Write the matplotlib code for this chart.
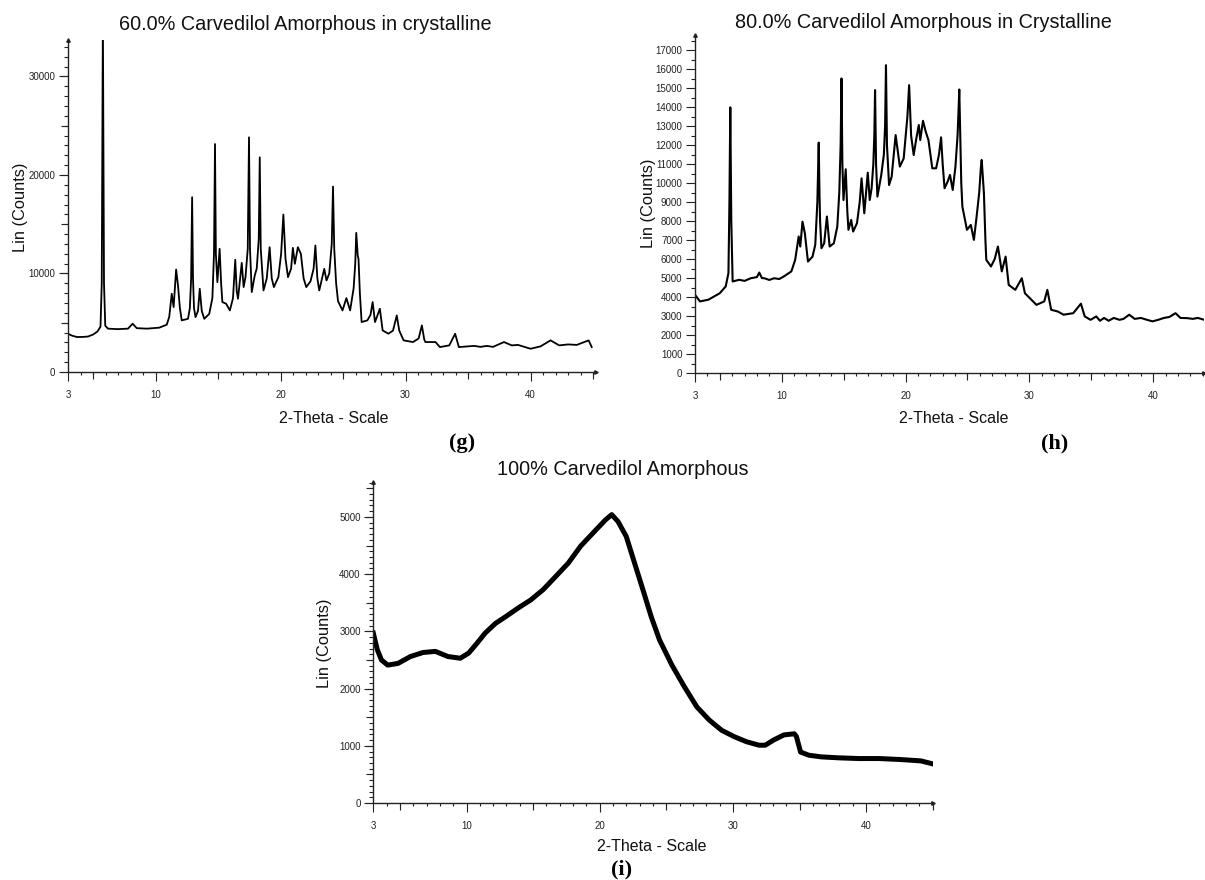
import matplotlib
matplotlib.use("Agg")
import matplotlib.pyplot as plt
from matplotlib.ticker import MultipleLocator, FixedLocator

plt.rcParams['font.family'] = ['Liberation Sans', 'DejaVu Sans']

# ---------------- data ----------------
titles = ["60.0% Carvedilol Amorphous in crystalline",
          "80.0% Carvedilol Amorphous in Crystalline",
          "100% Carvedilol Amorphous"]
panel_tags = ["(g)", "(h)", "(i)"]
x_label = "2-Theta - Scale"
y_label = "Lin (Counts)"
x_tick_values = [3, 10, 20, 30, 40]

two_theta_g = [3.0, 3.3, 3.7, 4.2, 4.6, 5.0, 5.35, 5.6, 5.70, 5.79, 5.88, 5.98, 6.2, 7.0, 7.8,
               8.17, 8.5, 9.3, 10.3, 10.9, 11.1, 11.3, 11.45, 11.65, 11.8, 11.95, 12.1, 12.6,
               12.75, 12.85, 12.93, 13.0, 13.08, 13.2, 13.4, 13.54, 13.7, 13.9, 14.3, 14.55,
               14.68, 14.76, 14.83, 14.95, 15.13, 15.25, 15.35, 15.65, 15.95, 16.2, 16.38, 16.5,
               16.6, 16.9, 17.05, 17.2, 17.38, 17.48, 17.56, 17.7, 17.94, 18.1, 18.26, 18.34,
               18.42, 18.64, 18.9, 19.13, 19.3, 19.47, 19.83, 20.05, 20.23, 20.4, 20.6, 20.85,
               20.99, 21.15, 21.39, 21.63, 21.85, 22.06, 22.4, 22.65, 22.79, 22.95, 23.1, 23.5,
               23.68, 23.9, 24.1, 24.2, 24.3, 24.45, 24.6, 24.96, 25.27, 25.57, 25.85, 25.98,
               26.06, 26.18, 26.24, 26.35, 26.49, 26.95, 27.2, 27.37, 27.56, 27.95, 28.17, 28.63,
               29.0, 29.3, 29.5, 29.85, 30.6, 31.05, 31.31, 31.5, 31.59, 32.4, 32.75, 33.5,
               33.97, 34.27, 35.0, 35.5, 36.0, 36.5, 37.0, 37.88, 38.5, 39.0, 40.0, 40.8, 41.6,
               42.3, 43.0, 43.7, 44.65, 44.9]
counts_g = [3885, 3700, 3550, 3560, 3600, 3800, 4100, 4600, 9000, 36000, 9000, 4700, 4400, 4350, 4400,
            4900, 4450, 4400, 4500, 4800, 5600, 7940, 6590, 10400, 8780, 6500, 5240, 5400,
            6500, 9500, 17740, 9500, 6500, 5570, 6200, 8450, 6200, 5400, 5900, 7500,
            12000, 23140, 12000, 9120, 12500, 9000, 7100, 6930, 6250, 7500, 11390, 8200,
            7430, 11080, 8620, 9630, 12500, 23820, 12500, 8110, 9800, 10500, 13500, 21790,
            12500, 8280, 9500, 12670, 9500, 8620, 9630, 12000, 15980, 11500, 9630, 10500,
            12600, 10980, 12670, 11990, 9500, 8620, 9200, 10500, 12840, 9500, 8280, 10470,
            9290, 10000, 13000, 18820, 12500, 9000, 7200, 6250, 7500, 6250, 8500, 11000,
            14120, 11800, 11490, 8000, 5070, 5240, 5800, 7100, 5070, 6420, 4220, 3890,
            4200, 5740, 4200, 3210, 3040, 3400, 4730, 3300, 3040, 3040, 2530, 2700,
            3885, 2530, 2600, 2650, 2550, 2650, 2550, 3040, 2700, 2750, 2360, 2600, 3210,
            2700, 2800, 2750, 3210, 2530]

two_theta_h = [3.0, 3.4, 4.08, 5.0, 5.48, 5.7, 5.78, 5.85, 5.93, 6.04, 6.57, 7.0, 7.5, 8.0, 8.19,
               8.4, 8.6, 9.0, 9.38, 9.8, 10.16, 10.78, 11.09, 11.37, 11.5, 11.68, 11.87, 12.12,
               12.49, 12.71, 12.88, 12.95, 12.99, 13.05, 13.1, 13.21, 13.43, 13.65, 13.87, 14.21,
               14.49, 14.65, 14.76, 14.83, 14.9, 14.99, 15.17, 15.3, 15.39, 15.61, 15.77, 16.08,
               16.3, 16.45, 16.67, 16.95, 17.11, 17.26, 17.4, 17.48, 17.54, 17.62, 17.73, 18.04,
               18.25, 18.35, 18.42, 18.5, 18.67, 18.88, 19.2, 19.54, 19.85, 20.15, 20.29, 20.45,
               20.66, 20.85, 21.07, 21.19, 21.41, 21.63, 21.85, 22.16, 22.47, 22.7, 22.87, 23.0,
               23.15, 23.4, 23.59, 23.81, 24.03, 24.2, 24.28, 24.34, 24.42, 24.5, 24.59, 24.96,
               25.27, 25.52, 25.74, 25.95, 26.08, 26.15, 26.25, 26.33, 26.45, 26.52, 26.9, 27.2,
               27.46, 27.77, 28.08, 28.33, 28.86, 29.39, 29.64, 30.57, 31.2, 31.45, 31.76, 32.29,
               32.76, 33.54, 34.16, 34.47, 34.94, 35.4, 35.7, 36.03, 36.4, 36.81, 37.28, 37.6,
               38.06, 38.5, 39.0, 39.5, 39.94, 40.4, 40.87, 41.3, 41.8, 42.2, 42.73, 43.2, 43.6,
               44.13]
counts_h = [4120, 3770, 3860, 4200, 4560, 5260, 9000, 13990, 8000, 4820, 4910, 4850, 4990, 5050, 5290,
            5000, 4990, 4900, 4990, 4950, 5080, 5350, 5960, 7190, 6660, 7970, 7360, 5870,
            6130, 6750, 9000, 11000, 12130, 9500, 8000, 6570, 6830, 8240, 6660, 6830,
            7710, 9500, 12000, 15510, 11000, 9110, 10730, 8500, 7540, 8060, 7450, 7890,
            9000, 10250, 8410, 10550, 9110, 9730, 11000, 12500, 14900, 11000, 9290, 10430,
            11500, 13000, 16210, 12000, 9900, 10340, 12530, 10870, 11300, 13500, 15160, 12500,
            11480, 12270, 13060, 12270, 13280, 12710, 12270, 10780, 10780, 11500, 12410, 11000,
            9730, 10080, 10430, 9640, 10870, 12500, 13800, 14930, 12500, 10000, 8760, 7540,
            7800, 7010, 8240, 9500, 10800, 11220, 10200, 9460, 7000, 5960, 5610, 6000,
            6660, 5350, 6130, 4640, 4380, 4990, 4200, 3590, 3770, 4380, 3330, 3240,
            3070, 3150, 3650, 2980, 2800, 2980, 2750, 2900, 2750, 2900, 2800, 2850,
            3070, 2850, 2900, 2800, 2720, 2800, 2900, 2950, 3150, 2900, 2890, 2850, 2900,
            2800]

two_theta_i = [3.0, 3.3, 3.61, 4.08, 4.86, 5.79, 6.73, 7.66, 8.6, 9.53, 10.16, 10.78, 11.4, 12.18,
               12.96, 13.89, 14.83, 15.76, 16.7, 17.63, 18.57, 19.5, 20.44, 20.9, 21.37, 21.99,
               22.62, 23.24, 23.86, 24.49, 25.42, 26.36, 27.29, 28.22, 29.16, 30.09, 31.03,
               31.96, 32.43, 33.05, 33.83, 34.61, 34.77, 35.08, 35.7, 36.64, 37.88, 39.44, 41.0,
               42.55, 44.11, 44.9]
counts_i = [2970, 2680, 2500, 2410, 2440, 2560, 2630, 2650, 2560, 2530, 2620, 2790, 2970, 3140,
            3260, 3410, 3550, 3730, 3960, 4190, 4490, 4720, 4950, 5040, 4920, 4660,
            4190, 3730, 3260, 2850, 2410, 2030, 1680, 1450, 1270, 1160, 1070,
            1010, 1010, 1100, 1190, 1210, 1160, 890, 835, 806, 790, 777, 777,
            760, 736, 690]

# ---------------- layout ----------------
W, H = 1205, 880
fig = plt.figure(figsize=(W / 100, H / 100), dpi=100)


def box(left, right, bottom, top):
    return [left / W, 1 - bottom / H, (right - left) / W, (bottom - top) / H]


def ftext(x, y, s, **kw):
    fig.text(x / W, 1 - y / H, s, ha='center', va='center', **kw)


panels = [
    dict(x=two_theta_g, y=counts_g, pos=box(68, 595.5, 372, 40), xlim=(3, 45.2), ylim=(0, 33700),
         ymajor=10000, ymid=5000, yminor=1000, lw=1.3,
         title=(305, 25), xlab=(334, 418), ylab=(21, 207), tag=(462, 443)),
    dict(x=two_theta_h, y=counts_h, pos=box(695, 1204, 373, 35), xlim=(3, 44.1), ylim=(0, 17800),
         ymajor=1000, ymid=None, yminor=500, lw=1.5,
         title=(923, 22), xlab=(954, 418), ylab=(648, 203), tag=(1055, 443)),
    dict(x=two_theta_i, y=counts_i, pos=box(373.3, 932.7, 803, 482), xlim=(3, 45), ylim=(0, 5610),
         ymajor=1000, ymid=500, yminor=100, lw=3.6,
         title=(623, 469), xlab=(652, 846), ylab=(325, 643), tag=(622, 869)),
]

for k, p in enumerate(panels):
    ax = fig.add_axes(p['pos'])
    ax.plot(p['x'], p['y'], color='black', lw=p['lw'], solid_joinstyle='round')
    ax.set_xlim(*p['xlim'])
    ax.set_ylim(*p['ylim'])
    for s in ['top', 'right']:
        ax.spines[s].set_visible(False)
    for s in ['left', 'bottom']:
        ax.spines[s].set_linewidth(1.0)
        ax.spines[s].set_color('#222222')
    # small arrow heads at the axis ends
    ax.plot([0], [1], marker='^', ms=2.5, color='#222222', transform=ax.transAxes, clip_on=False)
    ax.plot([1], [0], marker='>', ms=2.5, color='#222222', transform=ax.transAxes, clip_on=False)

    ax.xaxis.set_major_locator(FixedLocator(x_tick_values))
    ax.xaxis.set_minor_locator(MultipleLocator(1))
    ax.yaxis.set_major_locator(MultipleLocator(p['ymajor']))
    ax.yaxis.set_minor_locator(MultipleLocator(p['yminor']))
    ax.tick_params(axis='x', which='major', direction='out', length=6.7, width=0.8,
                   pad=6, labelsize=7, colors='#222222')
    ax.tick_params(axis='x', which='minor', direction='out', length=2.5, width=0.8, colors='#222222')
    ax.tick_params(axis='y', which='major', direction='out', length=6.5, width=0.8,
                   pad=2.5, labelsize=7, colors='#222222')
    ax.tick_params(axis='y', which='minor', direction='out', length=3.0, width=0.8, colors='#222222')

    secx = ax.secondary_xaxis('bottom')
    secx.set_xticks([5, 15, 25, 35, 45])
    secx.tick_params(direction='out', length=4.8, width=0.8, labelbottom=False, colors='#222222')
    secx.spines['bottom'].set_visible(False)
    if p['ymid']:
        secy = ax.secondary_yaxis('left')
        secy.yaxis.set_major_locator(MultipleLocator(p['ymid']))
        secy.tick_params(direction='out', length=4.8, width=0.8, labelleft=False, colors='#222222')
        secy.spines['left'].set_visible(False)

    ftext(*p['title'], titles[k], fontsize=14.3, color='#111111')
    ftext(*p['xlab'], x_label, fontsize=11.5, color='#111111')
    ftext(*p['ylab'], y_label, fontsize=11.8, rotation=90, color='#111111')
    ftext(*p['tag'], panel_tags[k], fontsize=16, fontweight='bold',
          family=['Liberation Serif', 'DejaVu Serif'])

fig.savefig("out.png", dpi=100)
